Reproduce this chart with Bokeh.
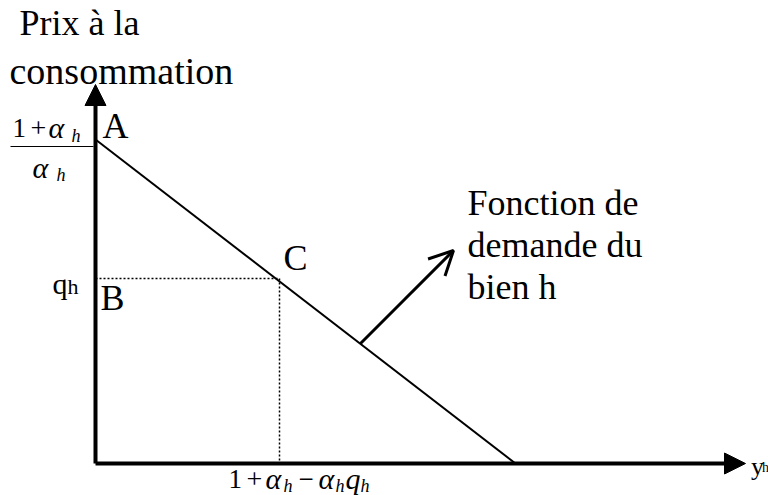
from bokeh.plotting import figure
from bokeh.models import Range1d, Arrow, NormalHead, OpenHead
from bokeh.core.properties import value
from bokeh.embed import file_html
from bokeh.resources import INLINE

# ---- data (diagram units) ----
price_axis_end = 3.79          # top of the price axis
quantity_axis_end = 6.50       # end of the quantity axis
A_price = 3.24                 # (1+alpha_h)/alpha_h : demand intercept on price axis
demand_x_intercept = 4.20      # demand intercept on quantity axis
C_point = (1.84, 1.85)         # (1+alpha_h-alpha_h q_h , q_h)
demand_arrow_start = (2.65, 1.20)
demand_arrow_end = (3.58, 2.13)

title_lines = ["Prix à la", "consommation"]
demand_label_lines = ["Fonction de", "demande du", "bien h"]
point_labels = ["A", "B", "C"]

FONT = value("Liberation Serif")

p = figure(width=768, height=495, output_backend="svg", toolbar_location=None,
           x_range=Range1d(-0.95, 6.73), y_range=Range1d(-0.32, 4.63),
           min_border=0, outline_line_color=None)
p.axis.visible = False
p.grid.visible = False
p.background_fill_color = "white"


def txt(x, y, s, size, italic=False, align="left"):
    p.text(x=[x], y=[y], text=[s], text_font=FONT, text_font_size=value(f"{size}px"),
           text_font_style="italic" if italic else "normal",
           text_align=align, text_baseline="alphabetic", text_color="black")


# axes with filled arrow heads
p.add_layout(Arrow(end=NormalHead(size=21, fill_color="black", line_color="black"),
                   x_start=0, y_start=0, x_end=0, y_end=price_axis_end,
                   line_width=4, line_color="black"))
p.add_layout(Arrow(end=NormalHead(size=21, fill_color="black", line_color="black"),
                   x_start=0, y_start=0, x_end=quantity_axis_end, y_end=0,
                   line_width=4, line_color="black"))

# demand line
p.line([0, demand_x_intercept], [A_price, 0], line_width=2, line_color="black")

# dotted guides to C
cx, cy = C_point
p.line([0, cx], [cy, cy], line_dash="2 2", line_width=1.5, line_color="black")
p.line([cx, cx], [cy, 0], line_dash="2 2", line_width=1.5, line_color="black")

# arrow pointing to the demand label
p.add_layout(Arrow(end=OpenHead(size=24, line_width=3, line_color="black"),
                   x_start=demand_arrow_start[0], y_start=demand_arrow_start[1],
                   x_end=demand_arrow_end[0], y_end=demand_arrow_end[1],
                   line_width=3, line_color="black"))

# titles
txt(-0.76, price_axis_end + 0.62, title_lines[0], 36)
txt(-0.86, price_axis_end + 0.14, title_lines[1], 38)

# point labels
txt(0.07, A_price + 0.14, point_labels[0], 36)
txt(0.05, cy - 0.19, point_labels[1], 36)
txt(cx + 0.04, cy + 0.21, point_labels[2], 36)

# q_h on price axis
txt(-0.43, cy - 0.05, "q", 30)
txt(-0.28, cy - 0.08, "h", 22)

# fraction (1+alpha_h)/alpha_h
txt(-0.83, A_price + 0.12, "1", 27)
txt(-0.65, A_price + 0.12, "+", 28)
txt(-0.47, A_price + 0.12, "α", 30, italic=True)
txt(-0.24, A_price + 0.04, "h", 18, italic=True)
p.line([-0.85, -0.02], [A_price - 0.07, A_price - 0.07], line_width=1, line_color="black")
txt(-0.63, A_price - 0.28, "α", 30, italic=True)
txt(-0.39, A_price - 0.35, "h", 18, italic=True)

# demand label
lx = demand_arrow_end[0] + 0.14
for i, line in enumerate(demand_label_lines):
    txt(lx, demand_arrow_end[1] + 0.48 - 0.42 * i, line, 36)

# y_h at quantity axis end
txt(quantity_axis_end + 0.055, -0.03, "y", 26)
txt(quantity_axis_end + 0.165, -0.04, "h", 14)

# 1 + alpha_h - alpha_h q_h under x axis
bx = cx - 0.51
txt(bx, -0.15, "1", 27)
txt(bx + 0.18, -0.15, "+", 28)
txt(bx + 0.37, -0.15, "α", 30, italic=True)
txt(bx + 0.55, -0.22, "h", 18, italic=True)
txt(bx + 0.70, -0.15, "−", 27)
txt(bx + 0.90, -0.15, "α", 30, italic=True)
txt(bx + 1.07, -0.22, "h", 18, italic=True)
txt(bx + 1.17, -0.15, "q", 30, italic=True)
txt(bx + 1.32, -0.22, "h", 18, italic=True)

open("out.html", "w").write(file_html(p, INLINE))
